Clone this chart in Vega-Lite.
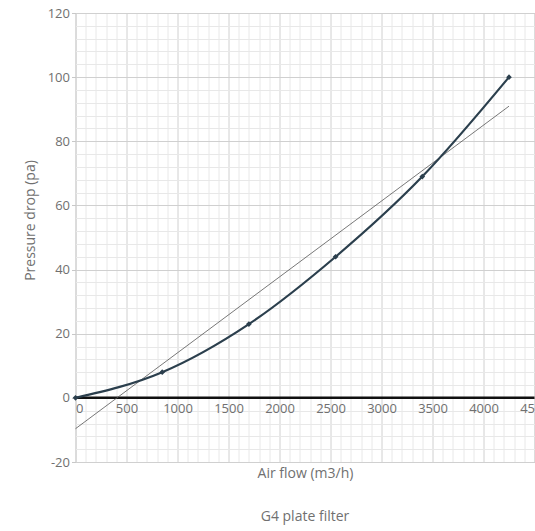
{
  "$schema": "https://vega.github.io/schema/vega-lite/v6.json",
  "width": 459,
  "height": 449,
  "autosize": "none",
  "padding": {"left": 75.5, "top": 13, "right": 0, "bottom": 69},
  "background": "white",
  "config": {
    "font": "Open Sans",
    "view": {"stroke": "#cfcfcf", "strokeWidth": 1},
    "axis": {
      "labelFont": "Open Sans",
      "titleFont": "Open Sans",
      "labelColor": "#707070",
      "titleColor": "#707070",
      "labelFontSize": 13,
      "titleFontSize": 14,
      "titleFontWeight": "normal",
      "domain": false
    },
    "title": {"font": "Open Sans", "fontSize": 14, "fontWeight": "normal", "color": "#707070"}
  },
  "title": {"text": "G4 plate filter", "orient": "bottom", "anchor": "middle", "offset": 30},
  "datasets": {
    "curve": [
      {"flow": 0, "pressure": 0},
      {"flow": 850, "pressure": 8},
      {"flow": 1700, "pressure": 23},
      {"flow": 2550, "pressure": 44},
      {"flow": 3400, "pressure": 69},
      {"flow": 4250, "pressure": 100}
    ],
    "zero": [
      {"flow": 0, "pressure": 0},
      {"flow": 4500, "pressure": 0}
    ]
  },
  "encoding": {
    "x": {
      "field": "flow", "type": "quantitative",
      "scale": {"domain": [0, 4500], "nice": false, "zero": false},
      "axis": {
        "title": "Air flow (m3/h)",
        "values": [0,100,200,300,400,500,600,700,800,900,1000,1100,1200,1300,1400,1500,1600,1700,1800,1900,2000,2100,2200,2300,2400,2500,2600,2700,2800,2900,3000,3100,3200,3300,3400,3500,3600,3700,3800,3900,4000,4100,4200,4300,4400,4500],
        "format": "d",
        "offset": -64,
        "ticks": false,
        "labelPadding": 4,
        "labelFlush": false,
        "labelOverlap": false,
        "labelExpr": "datum.value % 500 === 0 ? datum.label : ''",
        "labelAlign": {"condition": {"test": "datum.value === 0", "value": "left"}, "value": "center"},
        "gridColor": {"condition": {"test": "datum.value % 500 === 0", "value": "#d0d0d0"}, "value": "#e8e8e8"},
        "titleY": 75,
        "titleBaseline": "middle"
      }
    },
    "y": {
      "field": "pressure", "type": "quantitative",
      "scale": {"domain": [-20, 120], "nice": false, "zero": false},
      "axis": {
        "title": "Pressure drop (pa)",
        "values": [-20,-16,-12,-8,-4,0,4,8,12,16,20,24,28,32,36,40,44,48,52,56,60,64,68,72,76,80,84,88,92,96,100,104,108,112,116,120],
        "tickSize": 4,
        "tickColor": {"condition": {"test": "datum.value % 20 === 0", "value": "#c8c8c8"}, "value": "transparent"},
        "labelPadding": 2,
        "labelOverlap": false,
        "labelFlush": false,
        "labelExpr": "datum.value % 20 === 0 ? '' + datum.value : ''",
        "gridColor": {"condition": {"test": "datum.value % 20 === 0", "value": "#d0d0d0"}, "value": "#e8e8e8"},
        "titleX": -45.5,
        "titleY": 207,
        "titleBaseline": "middle"
      }
    }
  },
  "layer": [
    {
      "data": {"name": "zero"},
      "mark": {"type": "line", "color": "#111111", "strokeWidth": 2.5}
    },
    {
      "data": {"name": "curve"},
      "transform": [{"regression": "pressure", "on": "flow"}],
      "mark": {"type": "line", "color": "#555555", "strokeWidth": 0.8}
    },
    {
      "data": {"name": "curve"},
      "mark": {"type": "line", "interpolate": "monotone", "color": "#2b3f4d", "strokeWidth": 2.2}
    },
    {
      "data": {"name": "curve"},
      "mark": {"type": "point", "shape": "diamond", "filled": true, "color": "#2b3f4d", "size": 32, "opacity": 1}
    }
  ]
}
